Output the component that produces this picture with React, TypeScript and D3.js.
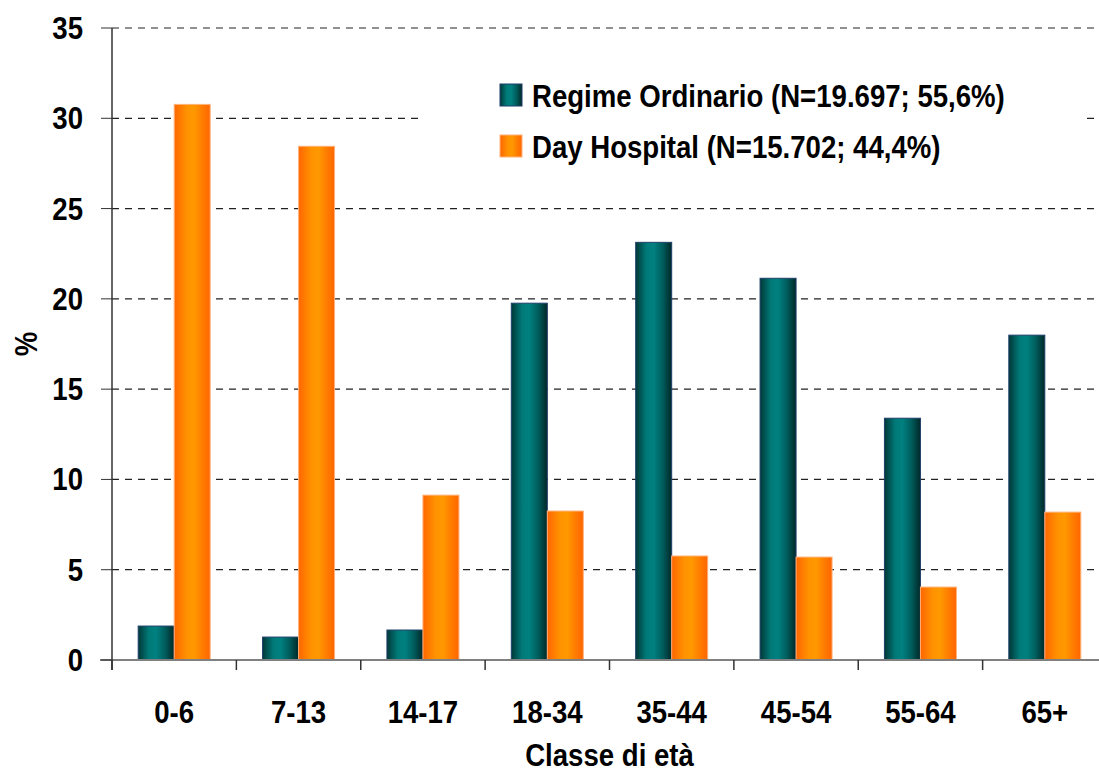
import React from "react";
import * as d3 from "d3";

const categories = ["0-6", "7-13", "14-17", "18-34", "35-44", "45-54", "55-64", "65+"];
const regimeOrdinario = [1.88, 1.27, 1.66, 19.76, 23.13, 21.14, 13.39, 17.99];
const dayHospital = [30.77, 28.45, 9.13, 8.25, 5.76, 5.7, 4.04, 8.19];
const yTicks = [0, 5, 10, 15, 20, 25, 30, 35];
const seriesNames = ["Regime Ordinario (N=19.697; 55,6%)", "Day Hospital (N=15.702; 44,4%)"];
const xTitle = "Classe di età";
const yTitle = "%";

const W = 1099;
const H = 778;
const FONT = "'Liberation Sans', Arial, sans-serif";
const FS = 31;
const SX = 0.89;

type TProps = { x: number; y: number; anchor?: "start" | "middle" | "end"; children: React.ReactNode; rotate?: number };
function T({ x, y, anchor = "start", children, rotate = 0 }: TProps) {
  return (
    <text
      transform={`translate(${x},${y}) rotate(${rotate}) scale(${SX},1)`}
      textAnchor={anchor}
      fontFamily={FONT}
      fontWeight="bold"
      fontSize={FS}
      fill="#000"
    >
      {children}
    </text>
  );
}

export default function App() {
  const left = 112;
  const right = 1107;
  const top = 28;
  const bottom = 660;

  const x = d3.scaleBand<string>().domain(categories).range([left, right]).padding(0);
  const y = d3.scaleLinear().domain([0, 35]).range([bottom, top]);
  const bw = 36;
  const groupOffset = (x.bandwidth() - 2 * bw) / 2;

  return (
    <svg width={W} height={H} style={{ position: "absolute", left: 0, top: 0, background: "#fff" }}>
      <defs>
        <linearGradient id="gTeal" x1="0" x2="1" y1="0" y2="0">
          <stop offset="0" stopColor="#003838" />
          <stop offset="0.3" stopColor="#007a78" />
          <stop offset="0.5" stopColor="#008080" />
          <stop offset="0.75" stopColor="#005c5c" />
          <stop offset="1" stopColor="#002828" />
        </linearGradient>
        <linearGradient id="gOrange" x1="0" x2="1" y1="0" y2="0">
          <stop offset="0" stopColor="#ff6600" />
          <stop offset="0.35" stopColor="#ff9200" />
          <stop offset="0.55" stopColor="#ff9900" />
          <stop offset="0.8" stopColor="#ff7a00" />
          <stop offset="1" stopColor="#ff6600" />
        </linearGradient>
      </defs>
      <rect x={0} y={0} width={W} height={H} fill="#fff" />

      {yTicks.filter((t) => t > 0).map((t) => (
        <line key={"g" + t} x1={left} x2={W} y1={y(t)} y2={y(t)} stroke="#222" strokeWidth={1.2} strokeDasharray="7,6" />
      ))}

      <rect x={422} y={62} width={660} height={118} fill="#fff" />

      {categories.map((c, i) => {
        const x0 = (x(c) as number) + groupOffset;
        return (
          <g key={c}>
            <rect x={x0} y={y(regimeOrdinario[i])} width={bw} height={bottom - y(regimeOrdinario[i])} fill="url(#gTeal)" stroke="#1f3f6a" strokeWidth={1} />
            <rect x={x0 + bw} y={y(dayHospital[i])} width={bw} height={bottom - y(dayHospital[i])} fill="url(#gOrange)" stroke="#ffb27a" strokeWidth={1} />
          </g>
        );
      })}

      <line x1={100} x2={W} y1={bottom} y2={bottom} stroke="#808080" strokeWidth={2} />
      {categories.map((c) => (
        <line key={"xt" + c} x1={x(c) as number} x2={x(c) as number} y1={bottom} y2={bottom + 10} stroke="#333" strokeWidth={1.5} />
      ))}
      {categories.map((c) => (
        <T key={"xl" + c} x={(x(c) as number) + x.bandwidth() / 2} y={723} anchor="middle">
          {c}
        </T>
      ))}
      <T x={(left + right) / 2} y={766} anchor="middle">
        {xTitle}
      </T>

      <line x1={left} x2={left} y1={top} y2={bottom + 10} stroke="#333" strokeWidth={1.5} />
      {yTicks.map((t) => (
        <g key={"yt" + t}>
          <line x1={101} x2={left} y1={y(t)} y2={y(t)} stroke="#333" strokeWidth={1} />
          <T x={83} y={y(t) + 11} anchor="end">
            {t}
          </T>
        </g>
      ))}
      <T x={37} y={y(17.5)} anchor="middle" rotate={-90}>
        {yTitle}
      </T>

      <rect x={500} y={84} width={22} height={22} fill="url(#gTeal)" stroke="#1f3f6a" strokeWidth={1} />
      <rect x={500} y={135} width={22} height={22} fill="url(#gOrange)" stroke="#ffb27a" strokeWidth={1} />
      <T x={532} y={107}>{seriesNames[0]}</T>
      <T x={532} y={158}>{seriesNames[1]}</T>
    </svg>
  );
}
